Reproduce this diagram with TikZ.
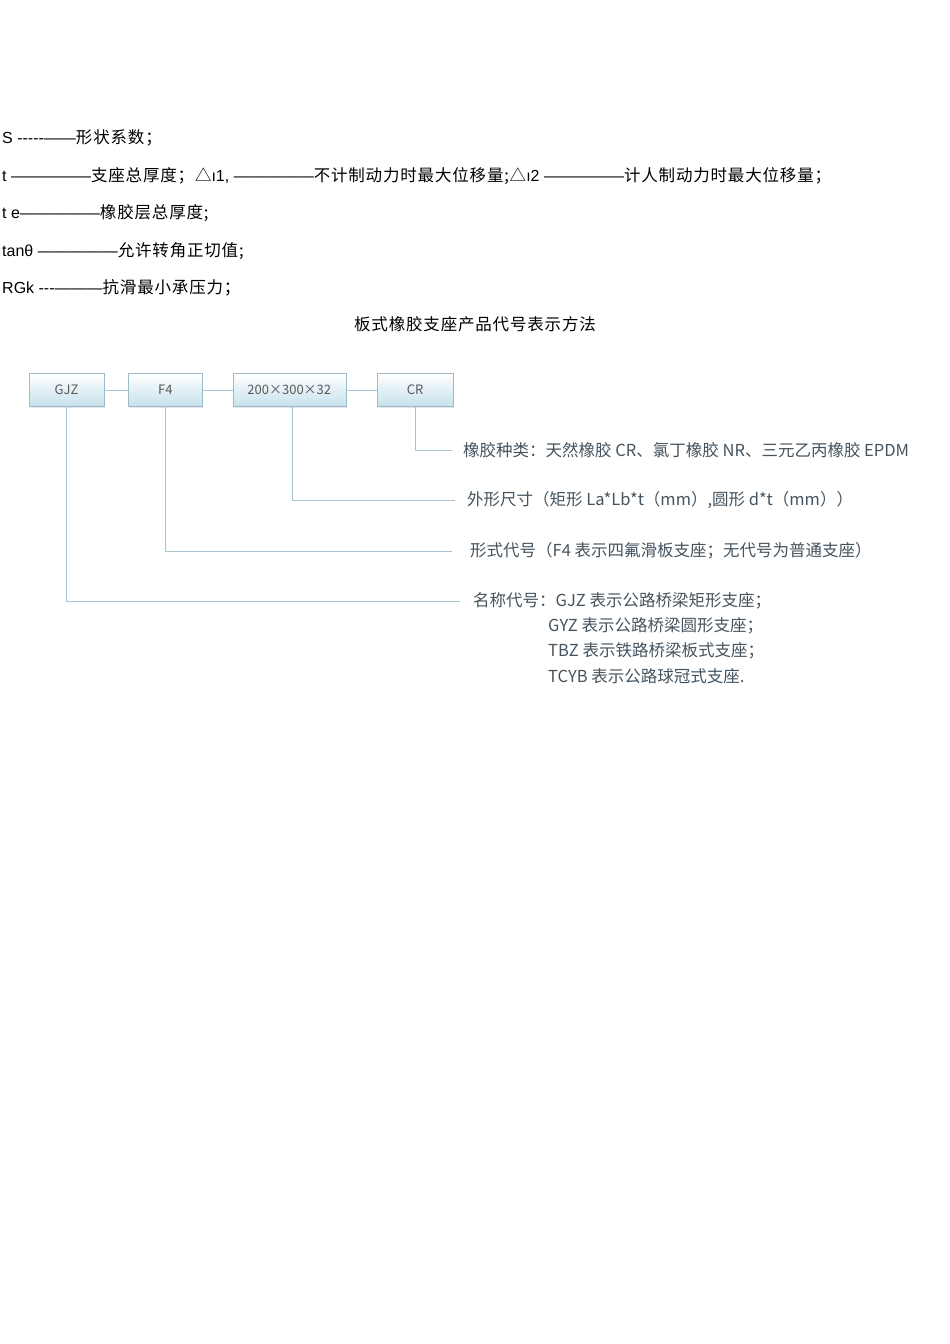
\documentclass[tikz,border=0pt]{standalone}
\usepackage{fontspec}
\setmainfont{Liberation Sans}[Ligatures=TeXOff]
\newfontfamily\cjk{Noto Sans CJK SC}
\newfontfamily\cjktop{Noto Sans CJK SC}[LetterSpace=5]
\usetikzlibrary{positioning, shadows}
\definecolor{boxline}{HTML}{9DBCC8}
\definecolor{boxfill}{HTML}{C6E1EC}
\definecolor{linkline}{HTML}{A9C5D0}
\definecolor{labeltext}{HTML}{44535E}

\begin{document}
\begin{tikzpicture}[x=1pt, y=-1pt, node distance=24pt,
  code box/.style={rectangle, draw=boxline, top color=white, bottom color=boxfill,
    minimum height=33pt, inner sep=0pt, font=\cjk\fontsize{13}{15}\selectfont, text=black!65,
    drop shadow={opacity=0.2, shadow xshift=1pt, shadow yshift=-1.5pt}},
  link/.style={draw=linkline, line width=0.8pt},
  note/.style={anchor=west, inner sep=0pt, text=labeltext, font=\cjk\fontsize{16.5}{19}\selectfont},
  line text/.style={anchor=base west, inner sep=0pt, font=\fontsize{16}{18}\selectfont}]

\useasboundingbox (0,0) rectangle (950,1344);

% symbol list
\node[line text] (sym1) at (2,143) {S -----——{\cjktop\fontsize{16.5}{18}\selectfont 形状系数；}};
\node[line text] (sym2) at (2,181) {t —————{\cjktop\fontsize{16.5}{18}\selectfont 支座总厚度；△}ı1, —————{\cjktop\fontsize{16.5}{18}\selectfont 不计制动力时最大位移量;△}ı2 —————{\cjktop\fontsize{16.5}{18}\selectfont 计人制动力时最大位移量；}};
\node[line text] (sym3) at (2,218) {t e—————{\cjktop\fontsize{16.5}{18}\selectfont 橡胶层总厚度;}};
\node[line text] (sym4) at (2,256) {tanθ —————{\cjktop\fontsize{16.5}{18}\selectfont 允许转角正切值;}};
\node[line text] (sym5) at (2,293) {RGk ---———{\cjktop\fontsize{16.5}{18}\selectfont 抗滑最小承压力；}};

\node[anchor=base, inner sep=0pt, font=\cjktop\fontsize{16.5}{18}\selectfont] (title) at (475,330) {板式橡胶支座产品代号表示方法};

% code boxes
\node[code box, minimum width=75pt] (gjz) at (66.5,390) {GJZ};
\node[code box, minimum width=74pt, right=24pt of gjz] (f4) {F4};
\node[code box, minimum width=113pt, right=30pt of f4] (size) {200×300×32};
\node[code box, minimum width=76pt, right=31pt of size] (cr) {CR};

\draw[link] (gjz) -- (f4) (f4) -- (size) (size) -- (cr);

% explanations
\node[note] (rubber) at (463,450) {橡胶种类：天然橡胶 CR、氯丁橡胶 NR、三元乙丙橡胶 EPDM};
\node[note] (shape) at (467,500) {外形尺寸（矩形 La*Lb*t（mm）,圆形 d*t（mm））};
\node[note] (form) at (470,551) {形式代号（F4 表示四氟滑板支座；无代号为普通支座）};
\node[note] (name) at (473,601) {名称代号：GJZ 表示公路桥梁矩形支座；};
\node[note] (name2) at (548,626) {GYZ 表示公路桥梁圆形支座；};
\node[note] (name3) at (548,651) {TBZ 表示铁路桥梁板式支座；};
\node[note] (name4) at (548,676) {TCYB 表示公路球冠式支座.};

\draw[link] (cr.south) |- ([xshift=-11pt]rubber.west);
\draw[link] ([xshift=3.5pt]size.south) |- ([xshift=-12pt]shape.west);
\draw[link] (f4.south) |- ([xshift=-18pt]form.west);
\draw[link] (gjz.south) |- ([xshift=-13pt]name.west);

\end{tikzpicture}
\end{document}
